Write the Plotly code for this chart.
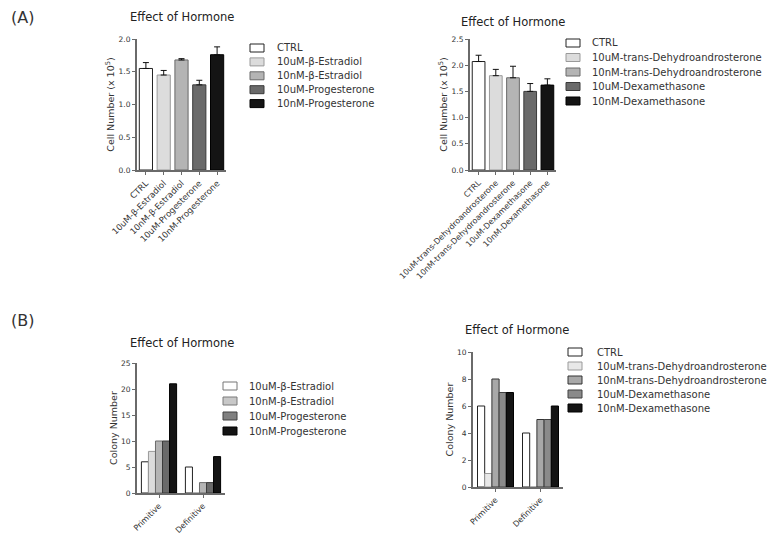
import plotly.graph_objects as go

# ---------------- data ----------------
a1_categories = ["CTRL", "10uM-β-Estradiol", "10nM-β-Estradiol", "10uM-Progesterone", "10nM-Progesterone"]
a1_values = [1.55, 1.45, 1.68, 1.30, 1.76]
a1_errors = [0.09, 0.07, 0.02, 0.07, 0.12]

a2_categories = ["CTRL", "10uM-trans-Dehydroandrosterone", "10nM-trans-Dehydroandrosterone",
                 "10uM-Dexamethasone", "10nM-Dexamethasone"]
a2_values = [2.07, 1.80, 1.76, 1.50, 1.62]
a2_errors = [0.12, 0.12, 0.22, 0.15, 0.12]

b_groups = ["Primitive", "Definitive"]

b1_series = ["CTRL", "10uM-β-Estradiol", "10nM-β-Estradiol", "10uM-Progesterone", "10nM-Progesterone"]
b1_values = [
    [6, 5],
    [8, 0],
    [10, 2],
    [10, 2],
    [21, 7],
]
b1_legend = ["10uM-β-Estradiol", "10nM-β-Estradiol", "10uM-Progesterone", "10nM-Progesterone"]

b2_series = ["CTRL", "10uM-trans-Dehydroandrosterone", "10nM-trans-Dehydroandrosterone",
             "10uM-Dexamethasone", "10nM-Dexamethasone"]
b2_values = [
    [6, 4],
    [1, 0],
    [8, 5],
    [7, 5],
    [7, 6],
]

a1_ticks = [0.0, 0.5, 1.0, 1.5, 2.0]
a2_ticks = [0.0, 0.5, 1.0, 1.5, 2.0, 2.5]
b1_ticks = [0, 5, 10, 15, 20, 25]
b2_ticks = [0, 2, 4, 6, 8, 10]

# ---------------- styles ----------------
FONT = "DejaVu Sans"
fills = ["#ffffff", "#dcdcdc", "#b4b4b4", "#6a6a6a", "#141414"]
edges = ["#222222", "#9a9a9a", "#6a6a6a", "#3a3a3a", "#000000"]
b1_legend_fills = ["#ffffff", "#c8c8c8", "#808080", "#141414"]
b1_legend_edges = ["#777777", "#7a7a7a", "#404040", "#000000"]
b2_fills = ["#ffffff", "#e8e8e8", "#a8a8a8", "#8a8a8a", "#141414"]
b2_edges = ["#222222", "#9a9a9a", "#333333", "#404040", "#000000"]
AXIS_COLOR = "#6a6a6a"

W, H = 780, 535


def px(x):
    return x / W


def py(y):
    return 1 - y / H


fig = go.Figure()

# Panel A1
fig.add_trace(go.Bar(
    x=a1_categories, y=a1_values, width=0.74,
    marker=dict(color=fills, line=dict(color=edges, width=1)),
    error_y=dict(type="data", array=a1_errors, arrayminus=[0] * len(a1_errors), symmetric=False,
                 color="#111111", thickness=1, width=3),
    xaxis="x", yaxis="y", showlegend=False,
))

# Panel A2
fig.add_trace(go.Bar(
    x=a2_categories, y=a2_values, width=0.74,
    marker=dict(color=fills, line=dict(color=edges, width=1)),
    error_y=dict(type="data", array=a2_errors, arrayminus=[0] * len(a2_errors), symmetric=False,
                 color="#111111", thickness=1, width=3),
    xaxis="x2", yaxis="y2", showlegend=False,
))

# Panel B1
for i, name in enumerate(b1_series):
    fig.add_trace(go.Bar(
        x=b_groups, y=b1_values[i], name=name,
        marker=dict(color=fills[i], line=dict(color=edges[i], width=1)),
        xaxis="x3", yaxis="y3", showlegend=False, offsetgroup=str(i),
    ))

# Panel B2
for i, name in enumerate(b2_series):
    fig.add_trace(go.Bar(
        x=b_groups, y=b2_values[i], name=name,
        marker=dict(color=b2_fills[i], line=dict(color=b2_edges[i], width=1)),
        xaxis="x4", yaxis="y4", showlegend=False, offsetgroup=str(i),
    ))


def xaxis_style(domain, anchor, fsize):
    return dict(domain=domain, anchor=anchor, automargin=False, showline=True, linecolor=AXIS_COLOR,
                linewidth=2, ticks="outside", ticklen=3, tickwidth=1, tickcolor=AXIS_COLOR,
                tickangle=-45, tickfont=dict(family=FONT, size=fsize, color="#333333"),
                showgrid=False, zeroline=False, fixedrange=True)


def yaxis_style(domain, anchor, rng, tickvals, fmt, title):
    return dict(domain=domain, anchor=anchor, automargin=False, range=rng, showline=True,
                linecolor=AXIS_COLOR, linewidth=2, ticks="outside", ticklen=3, tickwidth=1,
                tickcolor=AXIS_COLOR, tickvals=tickvals, tickformat=fmt,
                tickfont=dict(family=FONT, size=7.5, color="#333333"),
                title=dict(text=title, font=dict(family=FONT, size=9.5, color="#333333"), standoff=2),
                showgrid=False, zeroline=False, fixedrange=True)


fig.update_layout(
    width=W, height=H,
    margin=dict(l=0, r=0, t=0, b=0, autoexpand=False),
    paper_bgcolor="white", plot_bgcolor="white",
    barmode="group", bargap=0.2, bargroupgap=0.0,
    showlegend=False,
    font=dict(family=FONT, color="#333333"),
    xaxis=xaxis_style([px(137), px(226)], "y", 8.5),
    yaxis=yaxis_style([py(170), py(39)], "x", [0, 2.0], a1_ticks, ".1f", "Cell Number (x 10<sup>5</sup>)"),
    xaxis2=xaxis_style([px(470), px(556)], "y2", 8),
    yaxis2=yaxis_style([py(170), py(39)], "x2", [0, 2.5], a2_ticks, ".1f", "Cell Number (x 10<sup>5</sup>)"),
    xaxis3=xaxis_style([px(137), px(225)], "y3", 8),
    yaxis3=yaxis_style([py(493), py(363)], "x3", [0, 25], b1_ticks, "d", "Colony Number"),
    xaxis4=xaxis_style([px(473), px(563)], "y4", 8),
    yaxis4=yaxis_style([py(487), py(352)], "x4", [0, 10], b2_ticks, "d", "Colony Number"),
)

annotations = []
# panel labels
for text, y in [("(A)", 18), ("(B)", 320)]:
    annotations.append(dict(text=text, x=px(9), y=py(y), xref="paper", yref="paper",
                            xanchor="left", yanchor="middle", showarrow=False,
                            font=dict(family=FONT, size=16, color="#333333")))
# titles
for cx, cy in [(182, 17), (513, 22), (182, 343), (517, 330)]:
    annotations.append(dict(text="Effect of Hormone", x=px(cx), y=py(cy), xref="paper", yref="paper",
                            xanchor="center", yanchor="middle", showarrow=False,
                            font=dict(family=FONT, size=11.5, color="#222222")))

shapes = []


def manual_legend(names, fcols, ecols, x0, y0, dy, text_x):
    for i, name in enumerate(names):
        yc = y0 + i * dy
        shapes.append(dict(type="rect", xref="paper", yref="paper",
                           x0=px(x0), x1=px(x0 + 14), y0=py(yc + 4), y1=py(yc - 4),
                           fillcolor=fcols[i], line=dict(color=ecols[i], width=1)))
        annotations.append(dict(text=name, x=px(text_x), y=py(yc), xref="paper", yref="paper",
                                xanchor="left", yanchor="middle", showarrow=False,
                                font=dict(family=FONT, size=10, color="#333333")))


manual_legend(a1_categories, fills, edges, 250, 48, 13.9, 275)
manual_legend(a2_categories, fills, edges, 566, 43, 14.5, 590)
manual_legend(b1_legend, b1_legend_fills, b1_legend_edges, 223, 386, 15, 247)
manual_legend(b2_series, b2_fills, b2_edges, 568, 352, 14, 595)

fig.update_layout(annotations=annotations, shapes=shapes)

fig.write_html("out.html", config={"displayModeBar": False},
               post_script="document.body.style.margin='0';")
